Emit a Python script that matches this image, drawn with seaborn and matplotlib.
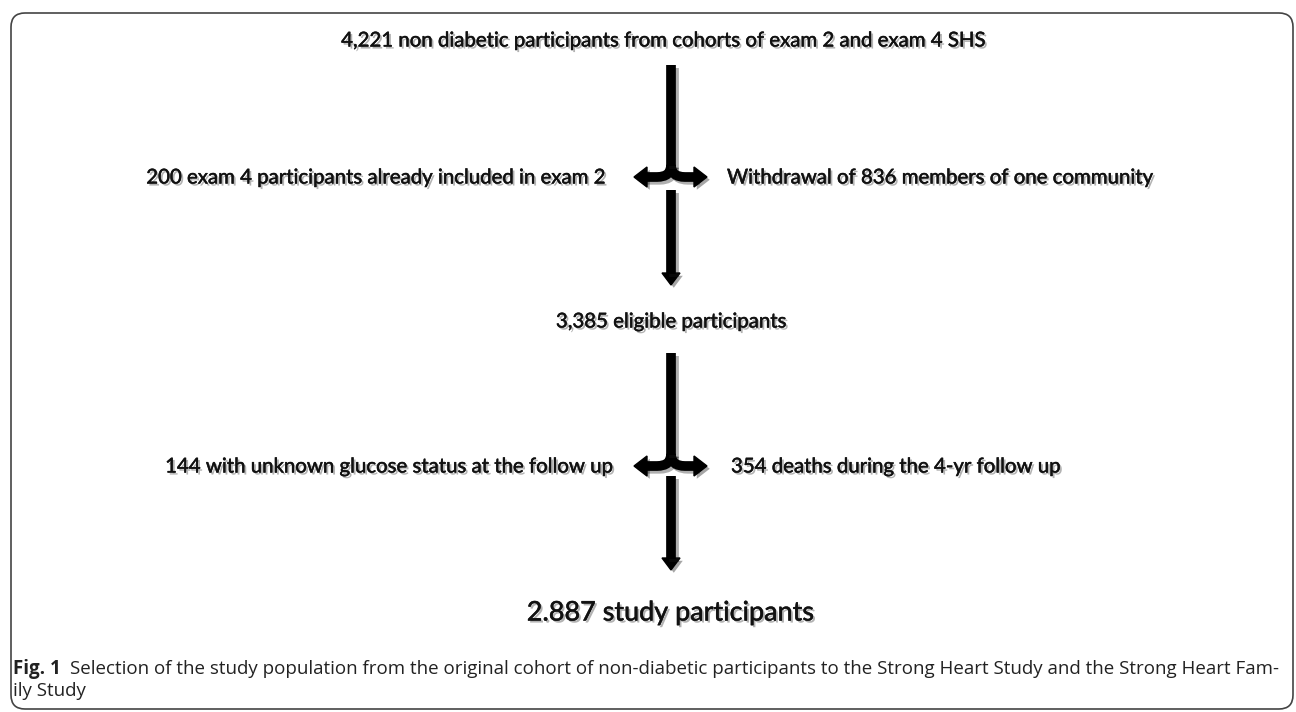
import matplotlib
matplotlib.use("Agg")
import matplotlib.pyplot as plt
import matplotlib.patheffects as pe
from matplotlib.patches import FancyBboxPatch, PathPatch, Polygon
from matplotlib.path import Path
import seaborn as sns

# flowchart texts
top_box = "4,221 non diabetic participants from cohorts of exam 2 and exam 4 SHS"
excl_1 = ["200 exam 4 participants already included in exam 2",
          "Withdrawal of 836 members of one community"]
mid_box = "3,385 eligible participants"
excl_2 = ["144 with unknown glucose status at the follow up",
          "354 deaths during the 4-yr follow up"]
final_box = "2.887 study participants"
caption_bold = "Fig. 1"
caption_text = ("Selection of the study population from the original cohort of non-diabetic "
                "participants to the Strong Heart Study and the Strong Heart Fam-")
caption_line2 = "ily Study"

sns.set_theme(style="white")
plt.rcParams["font.family"] = ["Lato", "DejaVu Sans"]

fig = plt.figure(figsize=(12.96, 7.12), dpi=100)
ax = fig.add_axes([0, 0, 1, 1])
ax.set_xlim(0, 1296)
ax.set_ylim(712, 0)
ax.axis("off")

# rounded frame
frame = FancyBboxPatch((11, 13), 1282, 696, boxstyle="round,pad=0,rounding_size=14",
                       fc="none", ec="#444444", lw=1.2)
ax.add_patch(frame)

shadow = [pe.SimplePatchShadow(offset=(2, -2), alpha=0.35), pe.Normal()]
lshadow = [pe.SimpleLineShadow(offset=(2, -2), alpha=0.35), pe.Normal()]
tshadow = [pe.SimplePatchShadow(offset=(1.5, -1.5), alpha=0.3),
           pe.withStroke(linewidth=0.35, foreground="#111111")]


def split_arrow(cx, ytop, ybrace, ystart, ytip, left_tip, right_tip):
    lw = 7
    ax.plot([cx, cx], [ytop, ybrace - 12], color="black", lw=lw,
            solid_capstyle="butt", path_effects=lshadow)
    for tip in (left_tip, right_tip):
        s = -1 if tip < cx else 1
        verts = [(cx, ybrace - 13), (cx, ybrace - 1), (cx + s * 14, ybrace - 1),
                 (tip - s * 10, ybrace - 1)]
        codes = [Path.MOVETO, Path.CURVE3, Path.CURVE3, Path.LINETO]
        ax.add_patch(PathPatch(Path(verts, codes), fc="none", ec="black", lw=lw,
                               capstyle="butt", path_effects=lshadow))
        ax.add_patch(Polygon([(tip, ybrace - 1), (tip - s * 13, ybrace - 11),
                              (tip - s * 13, ybrace + 9)], closed=True,
                             fc="black", ec="black", path_effects=shadow))
    ax.plot([cx, cx], [ystart, ytip - 11], color="black", lw=lw,
            solid_capstyle="butt", path_effects=lshadow)
    ax.add_patch(Polygon([(cx, ytip), (cx - 9, ytip - 12), (cx + 9, ytip - 12)],
                         closed=True, fc="black", ec="black", path_effects=shadow))


split_arrow(671, 65, 178, 190, 285, 634, 707)
split_arrow(671, 353, 467, 476, 570, 634, 707)

fig.canvas.draw()
renderer = fig.canvas.get_renderer()


def fit(t, width):
    w = t.get_window_extent(renderer).width
    t.set_fontsize(t.get_fontsize() * width / w)
    return t.get_fontsize()


tkw = dict(color="#111111", va="center", path_effects=tshadow)
t_top = ax.text(663, 41, top_box, ha="center", fontsize=15, **tkw)
fs = fit(t_top, 646)
ax.text(605, 178, excl_1[0], ha="right", fontsize=fs, **tkw)
ax.text(727, 178, excl_1[1], ha="left", fontsize=fs, **tkw)
ax.text(671, 322, mid_box, ha="center", fontsize=fs, **tkw)
ax.text(613, 467, excl_2[0], ha="right", fontsize=fs, **tkw)
ax.text(731, 467, excl_2[1], ha="left", fontsize=fs, **tkw)
t_fin = ax.text(670, 613, final_box, ha="center", fontsize=24, **tkw)
fit(t_fin, 288)

# caption
ckw = dict(va="center", family=["Open Sans", "DejaVu Sans"], color="#222222")
cap = ax.text(13, 669, caption_bold, fontsize=12, weight="bold", **ckw)
fig.canvas.draw()
bb = cap.get_window_extent(renderer)
cap2 = ax.text(bb.x1 + 9, 669, caption_text, fontsize=12, **ckw)
cfs = fit(cap2, 1273 - bb.x1 - 9)
cap.set_fontsize(cfs)
fig.canvas.draw()
bb = cap.get_window_extent(renderer)
cap2.set_x(bb.x1 + 9)
fit(cap2, 1273 - bb.x1 - 9)
ax.text(13, 691, caption_line2, fontsize=cap2.get_fontsize(), **ckw)

fig.savefig("out.png", dpi=100)
